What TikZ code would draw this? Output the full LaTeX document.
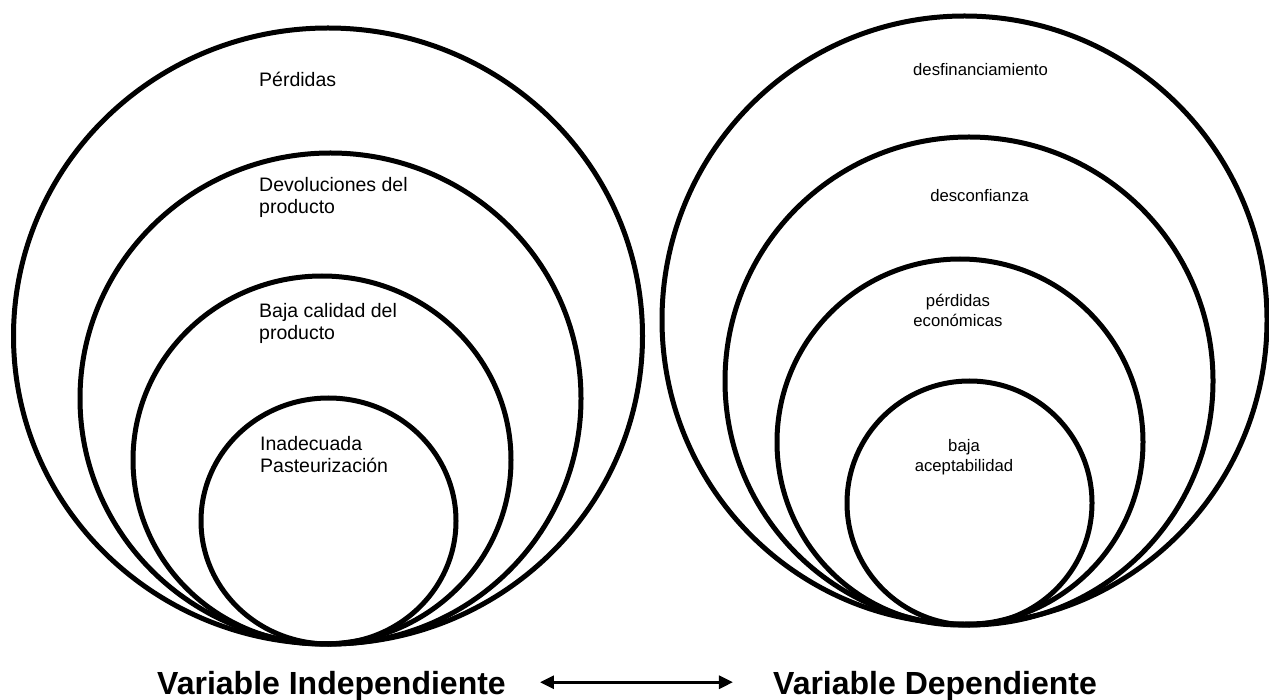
\documentclass[tikz,border=0pt]{standalone}
\usepackage{fontspec}
\setmainfont{Liberation Sans}
\usetikzlibrary{arrows.meta}
\begin{document}
\begin{tikzpicture}[x=1pt,y=-1pt,
  ring/.style={line width=5pt},
  ltxt/.style={font=\fontsize{19.5}{22}\selectfont, anchor=base west, align=left, inner sep=0pt},
  rtxt/.style={font=\fontsize{16.7}{20}\selectfont, anchor=base, align=center, inner sep=0pt},
  vlabel/.style={font=\bfseries\fontsize{32}{36}\selectfont, anchor=base, inner sep=0pt},
  dblarrow/.style={line width=3pt, {Triangle[length=14pt,width=13pt]}-{Triangle[length=14pt,width=13pt]}},
]
\useasboundingbox (0,0) rectangle (1269,700);
\fill[white] (0,0) rectangle (1269,700);

% left group
\draw[ring] (328,336) ellipse [x radius=314.5, y radius=308];
\draw[ring] (330.5,398.5) ellipse [x radius=250.5, y radius=245.5];
\draw[ring] (322,460) ellipse [x radius=189, y radius=184];
\draw[ring] (328.5,521) ellipse [x radius=127.5, y radius=123];

% right group
\draw[ring] (964.5,320) ellipse [x radius=302.5, y radius=304];
\draw[ring] (969,381) ellipse [x radius=244, y radius=244];
\draw[ring] (960,442) ellipse [x radius=183, y radius=183];
\draw[ring] (969.5,503) ellipse [x radius=122.5, y radius=122];

% left texts
\node[ltxt] (l1) at (259,87) {Pérdidas};
\node[ltxt] (l2) at (259,214) {Devoluciones del\\producto};
\node[ltxt] (l3) at (259,340) {Baja calidad del\\producto};
\node[ltxt] (l4) at (260,472) {Inadecuada\\Pasteurización};

% right texts
\node[rtxt] (r1) at (980.5,76) {desfinanciamiento};
\node[rtxt] (r2) at (979.5,201.5) {desconfianza};
\node[rtxt] (r3) at (958,326.5) {pérdidas\\económicas};
\node[rtxt] (r4) at (964,471) {baja\\aceptabilidad};

% bottom labels
\node[vlabel] (vi) at (331.5,694) {Variable Independiente};
\node[vlabel] (vd) at (935,694) {Variable Dependiente};
\draw[dblarrow] ([xshift=34pt,yshift=3.5pt]vi.east) -- ([xshift=-40pt,yshift=3.5pt]vd.west);
\end{tikzpicture}
\end{document}
